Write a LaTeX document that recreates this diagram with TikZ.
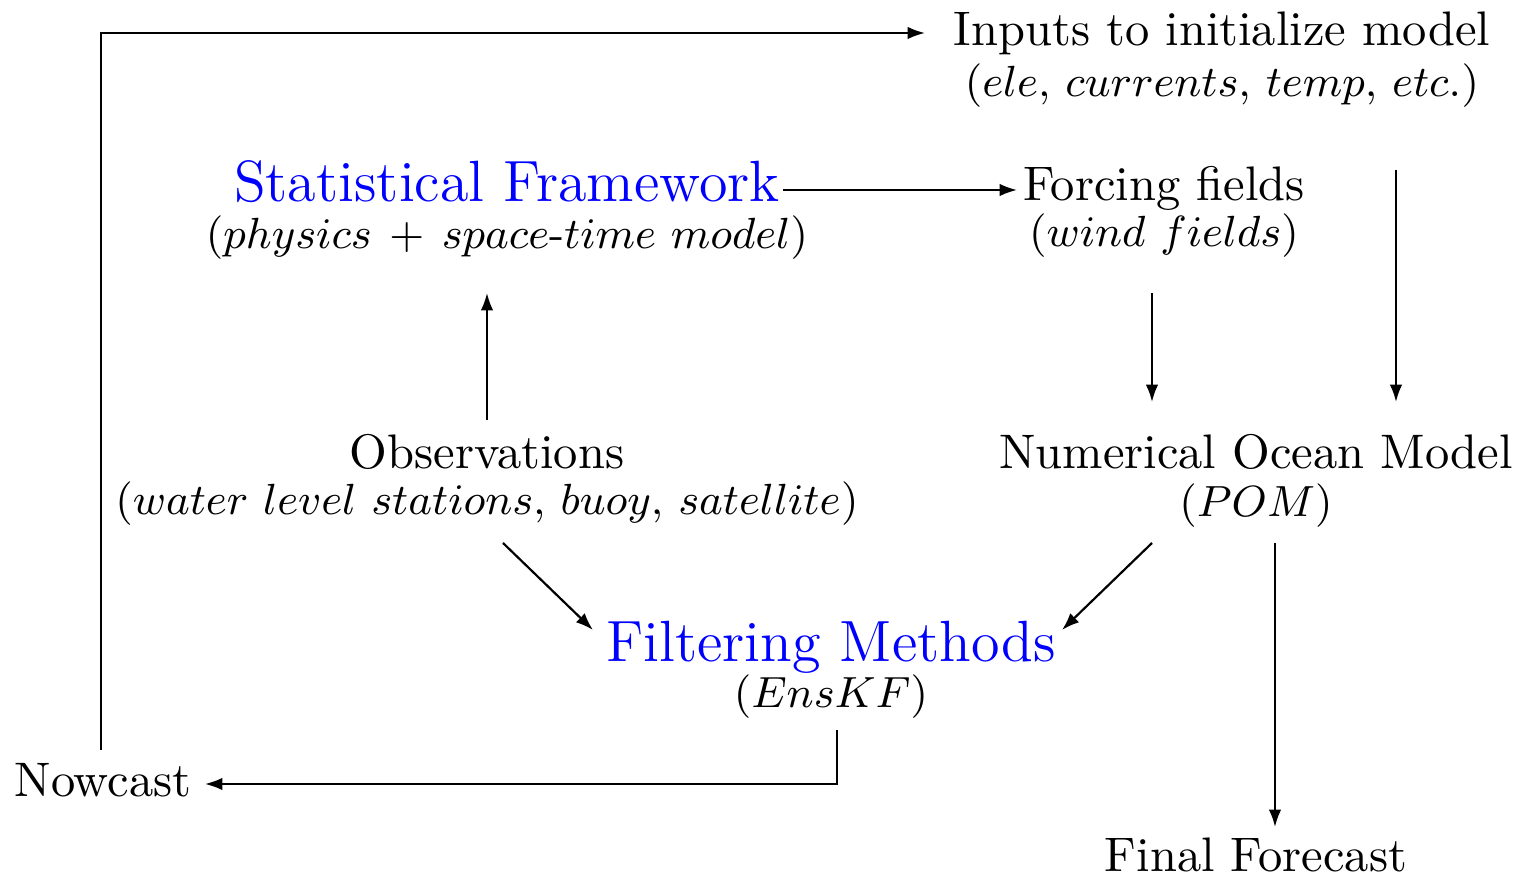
\documentclass[tikz,border=0pt]{standalone}
\usepackage{amsmath}
\usetikzlibrary{calc,arrows.meta}
\newcommand{\sub}[1]{{\small$(#1)$}}
\begin{document}
\begin{tikzpicture}[x=0.2062pt,y=-0.2062pt,
  lbl/.style={align=center,inner sep=0pt,text=black},
  arr/.style={-{Latex[length=3.6pt,width=2.6pt]},line width=0.45pt}]
\useasboundingbox (0,0) rectangle (1519,874);
\node[lbl] (inputs) at (1222,60) {Inputs to initialize model\\[-1.5pt] \sub{ele,\,currents,\,temp,\,etc.}};
\node[lbl] (stat) at (507,210) {{\large\color{blue}Statistical Framework}\\[-2.5pt] \sub{physics\,+\,space\text{-}time\ model}};
\node[lbl] (forcing) at (1164,212) {Forcing fields\\[-2.5pt] \sub{wind\ fields}};
\node[lbl] (obs) at (487,480) {Observations\\[-2.5pt] \sub{water\ level\ stations,\,buoy,\,satellite}};
\node[lbl] (num) at (1256,481) {Numerical Ocean Model\\[-2pt] \sub{POM}};
\node[lbl] (filt) at (831,670) {{\large\color{blue}Filtering Methods}\\[-2.5pt] \sub{EnsKF}};
\node[lbl] (now) at (103,780) {Nowcast};
\node[lbl] (final) at (1256,855) {Final Forecast};
% connectors
\draw[arr] ($(now)+(-2,-30)$) |- ($(inputs)+(-297,-27)$);
\draw[arr] ($(stat)+(276,-20)$) -- ($(forcing)+(-147,-22)$);
\draw[arr] ($(obs)+(0,-60)$) -- ($(stat)+(-20,83)$);
\draw[arr] ($(forcing)+(-12,81)$) -- ($(num)+(-104,-79)$);
\draw[arr] ($(inputs)+(174,110)$) -- ($(num)+(140,-79)$);
\draw[arr] ($(obs)+(16,63)$) -- ($(filt)+(-238,-40)$);
\draw[arr] ($(num)+(-104,62)$) -- ($(filt)+(231,-40)$);
\draw[arr] ($(num)+(19,62)$) -- ($(final)+(19,-28)$);
\draw[arr] ($(filt)+(6,60)$) |- ($(now)+(102,4)$);
\end{tikzpicture}
\end{document}
